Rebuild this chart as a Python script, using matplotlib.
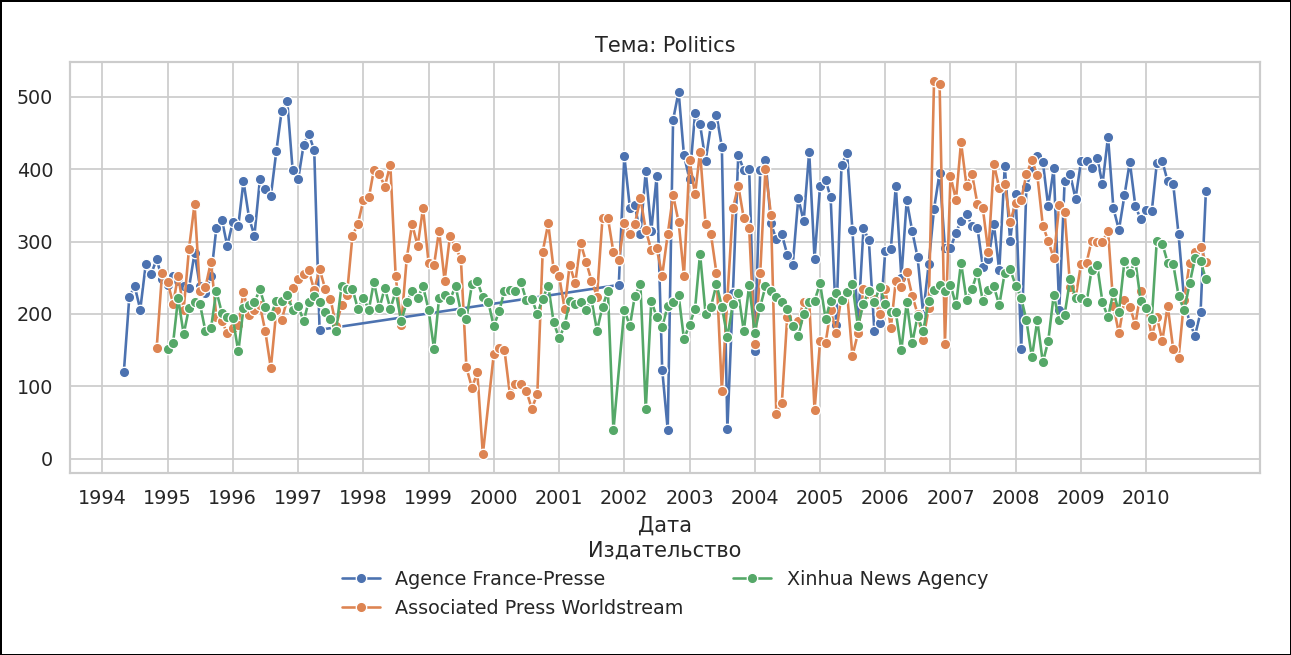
import matplotlib
matplotlib.use("Agg")
import matplotlib.pyplot as plt
import matplotlib.dates as mdates
import pandas as pd
import seaborn as sns

# Monthly article counts
afp_start_1 = "1994-05"
afp_part_1 = [119, 224, 238, 206, 269, 255, 276, 248, 240, 252, 245, 238, 236, 284,
              238, 229, 252, 318, 330, 294, 327, 322, 383, 333, 308, 386, 373, 363,
              425, 481, 494, 399, 386, 434, 449, 426, 178]
afp_start_2 = "2001-12"
afp_part_2 = [240, 418, 347, 350, 310, 397, 315, 390, 123, 40, 468, 507, 419, 386,
              477, 462, 411, 461, 475, 431, 41, 229, 419, 399, 400, 148, 399, 413,
              325, 303, 310, 282, 268, 360, 328, 424, 276, 377, 385, 361, 185, 406,
              422, 316, 185, 318, 302, 176, 187, 287, 289, 377, 250, 357, 314, 278,
              200, 269, 345, 395, 291, 291, 312, 329, 338, 322, 319, 265, 276, 324,
              260, 404, 301, 366, 151, 376, 398, 418, 410, 349, 401, 206, 383, 393,
              359, 411, 411, 402, 416, 379, 445, 346, 316, 364, 410, 349, 331, 344,
              342, 408, 411, 383, 379, 310, 219, 188, 170, 202, 370]

# None = month missing in the data
ap_start = "1994-11"
ap_values = [153, 256, 244, 214, 253, 206, 290, 352, 232, 237, 272, 196, 190, 173,
             180, 185, 230, 198, 205, 212, 176, 125, 205, 192, 220, 236, 248, 255,
             260, 233, 262, 235, 221, 183, 212, 226, 308, 324, 357, 361, 399, 393,
             376, 406, 252, 185, 277, 324, 294, 346, 271, 268, 315, 246, 308, 292,
             276, 126, 98, 119, 6, None, 144, 153, 150, 88, 103, 103, 94, 69, 89,
             286, 325, 262, 252, 207, 268, 242, 298, 272, 246, 224, 333, 333, 285,
             274, 326, 311, 324, 360, 316, 288, 291, 253, 310, 364, 327, 253, 413,
             365, 424, 324, 310, 256, 94, 222, 346, 377, 332, 318, 158, 257, 400,
             337, 61, 77, 196, 183, 190, 217, 218, 67, 162, 160, 205, 174, 226, 229,
             142, 173, 235, 228, 220, 200, 235, 180, 246, 237, 258, 225, 200, 164,
             208, 522, 518, 159, 390, 358, 437, 377, 394, 352, 346, 285, 407, 374,
             380, 327, 353, 358, 393, 412, 392, 322, 301, 277, 350, 341, 237, 222,
             269, 271, 301, 300, 300, 315, 211, 173, 219, 210, 185, 231, 209, 169,
             196, 163, 211, 151, 139, 219, 271, 285, 292, 272]

xinhua_start = "1995-01"
xinhua_values = [151, 160, 222, 172, 208, 217, 214, 176, 180, 232, 201, 195, 194, 148,
                 208, 212, 216, 234, 209, 197, 218, 218, 226, 206, 211, 190, 217, 225,
                 216, 203, 193, 176, 239, 234, 235, 207, 222, 206, 244, 208, 236, 207,
                 231, 190, 216, 232, 222, 238, 206, 151, 222, 226, 219, 239, 203, 193,
                 241, 245, 223, 217, 183, 204, 232, 233, 231, 244, 219, 221, 200, 221,
                 239, 189, 166, 184, 218, 214, 216, 206, 220, 177, 210, 232, 39, None,
                 206, 183, 225, 241, 68, 218, 196, 182, 211, 217, 226, 165, 185, 207,
                 283, 200, 210, 241, 210, 168, 214, 229, 176, 240, 174, 210, 238, 232,
                 224, 216, 207, 183, 170, 200, 217, 218, 242, 193, 218, 229, 219, 230,
                 241, 183, 214, 232, 216, 237, 214, 202, 202, 150, 216, 160, 197, 176,
                 218, 233, 240, 231, 240, 212, 271, 219, 234, 258, 218, 233, 238, 212,
                 257, 262, 239, 222, 191, 140, 191, 133, 162, 226, 191, 199, 248, 222,
                 222, 216, 261, 268, 216, 195, 230, 203, 273, 257, 273, 218, 208, 193,
                 301, 297, 271, 269, 225, 205, 242, 277, 273, 248]

publishers = ["Agence France-Presse", "Associated Press Worldstream", "Xinhua News Agency"]
years = list(range(1994, 2011))


def monthly(start, values, name):
    dates = pd.date_range(start, periods=len(values), freq="MS")
    part = pd.DataFrame({"Дата": dates, "count": values, "Издательство": name})
    return part.dropna()


df = pd.concat([
    monthly(afp_start_1, afp_part_1, publishers[0]),
    monthly(afp_start_2, afp_part_2, publishers[0]),
    monthly(ap_start, ap_values, publishers[1]),
    monthly(xinhua_start, xinhua_values, publishers[2]),
], ignore_index=True)
df["count"] = df["count"].astype(float)

sns.set_theme(style="whitegrid")
plt.rcParams["font.family"] = ["DejaVu Sans"]

fig, ax = plt.subplots(figsize=(1291 / 125, 655 / 125), dpi=125)
fig.subplots_adjust(left=0.054, right=0.976, top=0.905, bottom=0.278)

sns.lineplot(data=df, x="Дата", y="count", hue="Издательство",
             hue_order=publishers, marker="o", ax=ax)

ax.set_title("Тема: Politics")
ax.set_ylabel("")
ax.set_xticks([pd.Timestamp(f"{y}-01-01") for y in years])
ax.xaxis.set_major_formatter(mdates.DateFormatter("%Y"))

sns.move_legend(ax, "upper center", bbox_to_anchor=(0.5, -0.123), ncol=2,
                frameon=False, title="Издательство", columnspacing=2.6)

fig.patch.set_edgecolor("black")
fig.patch.set_linewidth(1.5)
fig.savefig("out.png", dpi=125, edgecolor=fig.get_edgecolor())
